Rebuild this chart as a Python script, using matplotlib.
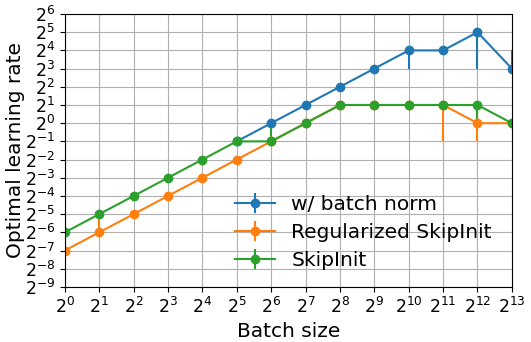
import matplotlib
matplotlib.use("Agg")
import matplotlib.pyplot as plt
import numpy as np

# exponents (log2)
bn_x = [5, 6, 7, 8, 9, 10, 11, 12, 13]
bn_y = [-1, 0, 1, 2, 3, 4, 4, 5, 3]
bn_lo = [0, 0, 0, 0, 0, 1, 0, 2, 0]
bn_hi = [0, 0, 0, 0, 0, 0, 0, 0, 1]

reg_x = [0, 1, 2, 3, 4, 5, 6, 7, 8, 9, 10, 11, 12, 13]
reg_y = [-7, -6, -5, -4, -3, -2, -1, 0, 1, 1, 1, 1, 0, 0]
reg_lo = [0, 0, 0, 0, 0, 0, 0, 0, 0, 0, 0, 2, 1, 0]
reg_hi = [0, 1, 0, 0, 0, 0, 0, 0, 0, 0, 0, 0, 0, 0]

skip_x = [0, 1, 2, 3, 4, 5, 6, 7, 8, 9, 10, 11, 12, 13]
skip_y = [-6, -5, -4, -3, -2, -1, -1, 0, 1, 1, 1, 1, 1, 0]
skip_lo = [0, 0, 0, 0, 0, 0, 0, 0, 0, 0, 0, 0, 1, 0]
skip_hi = [0, 0, 0, 0, 0, 0, 1, 0, 0, 0, 0, 0, 0, 0]

labels = ["w/ batch norm", "Regularized SkipInit", "SkipInit"]

fig = plt.figure(figsize=(5.31, 3.42), dpi=100)
ax = fig.add_axes([0.122, 0.161, 0.842, 0.798])

def plot_series(x, y, lo, hi, label, color):
    xv = 2.0 ** np.array(x)
    yv = 2.0 ** np.array(y)
    lower = yv - 2.0 ** (np.array(y) - np.array(lo))
    upper = 2.0 ** (np.array(y) + np.array(hi)) - yv
    ax.errorbar(xv, yv, yerr=[lower, upper], marker='o', markersize=6,
                color=color, label=label, linewidth=1.5, elinewidth=1.5)

plot_series(bn_x, bn_y, bn_lo, bn_hi, labels[0], '#1f77b4')
plot_series(reg_x, reg_y, reg_lo, reg_hi, labels[1], '#ff7f0e')
plot_series(skip_x, skip_y, skip_lo, skip_hi, labels[2], '#2ca02c')

ax.set_xscale('log', base=2)
ax.set_yscale('log', base=2)
ax.set_xlim(2**0, 2**13)
ax.set_ylim(2**-9, 2**6)
ax.set_xticks([2.0**k for k in range(0, 14)])
ax.set_yticks([2.0**k for k in range(-9, 7)])
ax.minorticks_off()
ax.tick_params(labelsize=12.5)
ax.grid(True, color='#b0b0b0', linewidth=0.8)
ax.set_xlabel('Batch size', fontsize=14.5)
ax.set_ylabel('Optimal learning rate', fontsize=14.5)
ax.yaxis.set_label_coords(-0.09, 0.5)
ax.legend(loc='lower left', bbox_to_anchor=(0.34, -0.005), frameon=False,
          fontsize=14.5, handlelength=2.0, labelspacing=0.45)

fig.savefig('out.png', dpi=100)
